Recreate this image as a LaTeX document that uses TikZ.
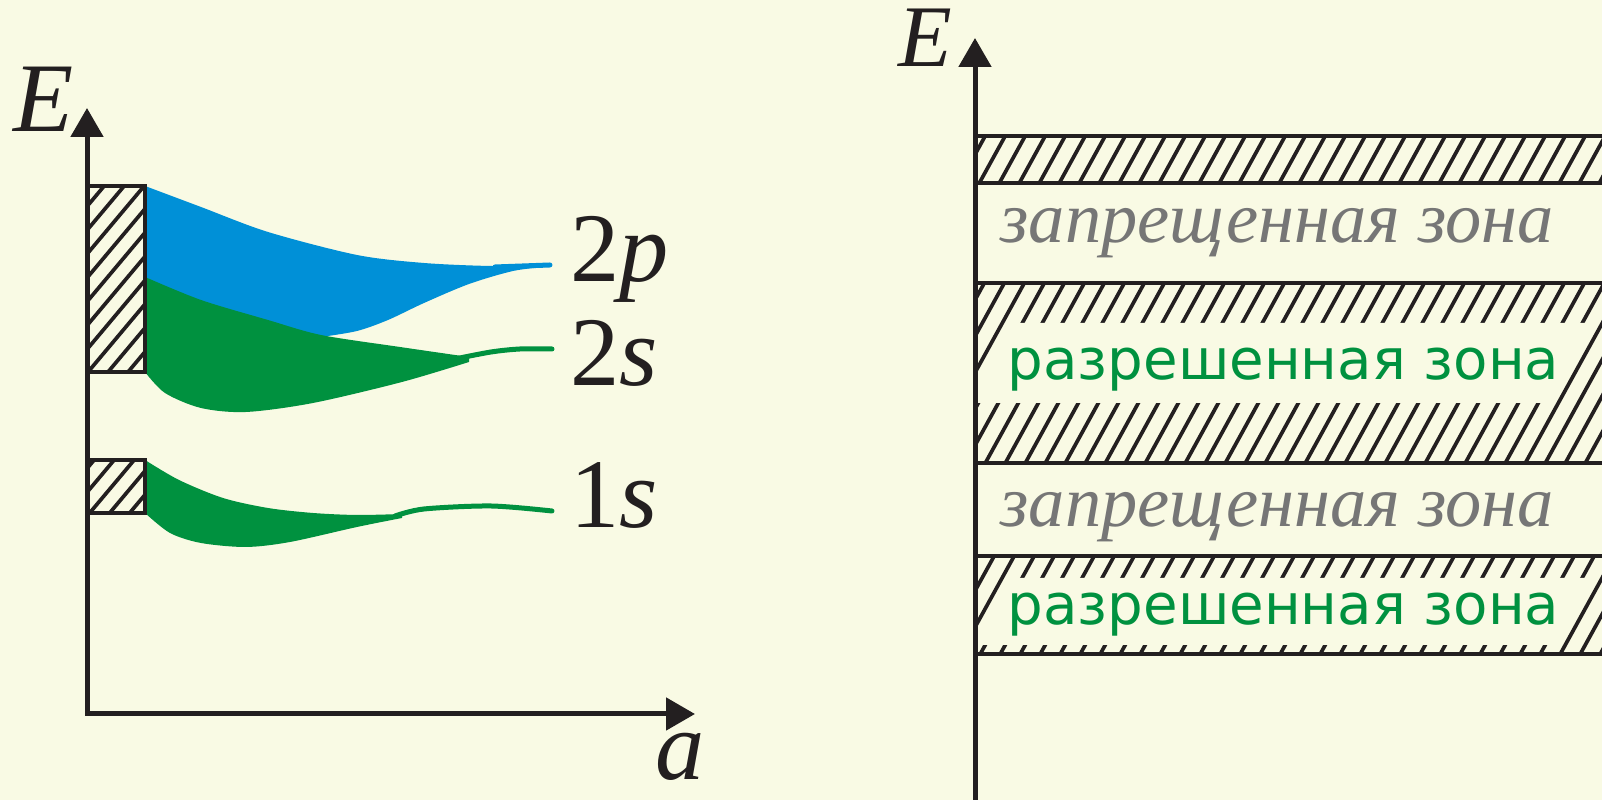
\documentclass[tikz,border=0pt]{standalone}
\usepackage{fontspec}
\setmainfont{Liberation Serif}
\newfontfamily\zonesans{DejaVu Sans}
\usetikzlibrary{arrows.meta}
\definecolor{bgcream}{HTML}{F9FAE4}
\definecolor{inkblack}{HTML}{231F20}
\definecolor{bandblue}{HTML}{0090D7}
\definecolor{bandgreen}{HTML}{00913F}
\definecolor{zonegray}{HTML}{767676}

\begin{document}
\begin{tikzpicture}[x=0.1mm, y=-0.1mm, >={Triangle[length=2.9mm, width=3.2mm]},
  axis/.style={line width=0.5mm, draw=inkblack},
  bandline/.style={line width=0.4mm, draw=inkblack},
  hatch/.style={line width=0.37mm, draw=inkblack},
  lbl/.style={font=\fontsize{28}{30}\selectfont, text=inkblack, inner sep=0pt, anchor=base west},
  forbid/.style={font=\fontsize{20.6}{22}\selectfont\itshape, text=zonegray, inner sep=0pt, anchor=base west},
  allow/.style={font=\zonesans\fontsize{16}{18}\selectfont, text=bandgreen, inner sep=0pt, anchor=base west}]
  % фон
  \path[use as bounding box, fill=bgcream] (0,0) rectangle (1602,800);

  % левая диаграмма: уровни
  \fill[bandblue] plot[smooth] coordinates {(145,186) (201,207) (268,232) (357,255) (424,263) (491,266) (545,265)}
    -- plot[smooth] coordinates {(545,267) (513,271) (469,284) (424,303) (388,320) (357,331) (321,337)}
    -- (145,300) -- cycle;
  \draw[bandblue, line width=0.5mm, line cap=round] (495,267) -- (550,265);
  \fill[bandgreen] plot[smooth] coordinates {(145,277) (201,300) (268,320) (321,335) (400,347) (469,357)}
    -- plot[smooth] coordinates {(469,362) (402,382) (313,403) (246,412) (201,408) (165,393) (145,372)} -- cycle;
  \draw[bandgreen, line width=0.5mm, line cap=round] plot[smooth] coordinates {(455,359) (491,352) (520,349) (552,349)};
  \fill[bandgreen] plot[smooth] coordinates {(145,460) (179,480) (223,498) (268,508) (313,513) (357,515) (402,514)}
    -- plot[smooth] coordinates {(402,518) (357,527) (290,542) (246,547) (201,543) (170,533) (145,513)} -- cycle;
  \draw[bandgreen, line width=0.5mm, line cap=round] plot[smooth] coordinates {(395,516) (424,509) (491,506) (552,511)};

  % штриховка у оси
  \begin{scope}
    \clip (87,186) rectangle (145,372) (87,460) rectangle (145,513);
    \foreach \c in {240,260,...,600}
      \draw[hatch] (\c-453,540) -- (\c-134,160);
  \end{scope}
  \draw[bandline] (87,186) rectangle (145,372);
  \draw[bandline] (87,460) rectangle (145,513);

  % оси
  \coordinate (O1) at (87,714);
  \coordinate (Etip1) at (87,108);
  \coordinate (atip) at (695,714);
  \draw[axis, <->] (Etip1) -- (O1) -- (atip);
  \node[lbl] (E1) at (13,132) {\textit{E}};
  \node[lbl] (alab) at (655,780) {\textit{a}};
  \node[lbl] (l2p) at (570,282) {2\textit{p}};
  \node[lbl] (l2s) at (570,386) {2\textit{s}};
  \node[lbl] (l1s) at (570,528) {1\textit{s}};

  % правая диаграмма: зоны
  \begin{scope}
    \clip (975,136) rectangle (1602,183) (975,283) rectangle (1602,463) (975,556) rectangle (1602,654);
    \foreach \x in {600,620,...,1560}
      \draw[hatch] (\x,800) -- (\x+440,0);
  \end{scope}
  \fill[bgcream] (975,403) -- (1019,323) -- (1597,323) -- (1553,403) -- cycle;
  \fill[bgcream] (975,645) -- (1012,578) -- (1590,578) -- (1553,645) -- cycle;
  \foreach \y in {136,183,283,463,556,654}
    \draw[bandline] (975,\y) -- (1602,\y);

  \node[forbid] (forb1) at (1000,243) {запрещенная зона};
  \node[allow] (allow1) at (1007,380) {разрешенная зона};
  \node[forbid] (forb2) at (1000,527) {запрещенная зона};
  \node[allow] (allow2) at (1007,625) {разрешенная зона};

  \coordinate (O2) at (975,800);
  \coordinate (Etip2) at (975,38);
  \draw[axis, ->] (O2) -- (Etip2);
  \node[lbl, font=\fontsize{25}{27}\selectfont] (E2) at (898,67) {\textit{E}};
\end{tikzpicture}
\end{document}
